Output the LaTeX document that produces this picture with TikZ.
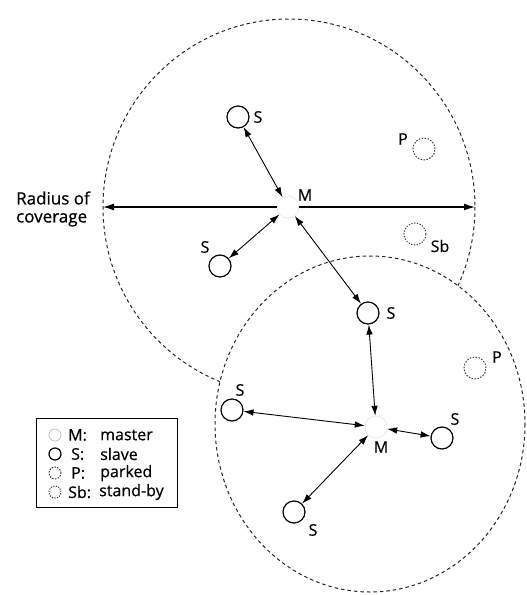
\documentclass[tikz,border=0pt]{standalone}
\usepackage{fontspec}
\setmainfont{Open Sans}
\newfontfamily\labfont{Open Sans}[FakeBold=0.6]
\usetikzlibrary{arrows.meta}
\begin{document}
\begin{tikzpicture}[x=1pt,y=-1pt,
  cov/.style={draw=black!85, line width=1pt, dash pattern=on 3.5pt off 3pt},
  slave/.style={circle, draw, line width=1.2pt, minimum size=22pt, inner sep=0pt},
  master/.style={circle, draw=black!10, line width=0.6pt, minimum size=22pt, inner sep=0pt},
  parked/.style={circle, draw=black!80, line width=0.9pt, dash pattern=on 1.6pt off 1.4pt, minimum size=22pt, inner sep=0pt},
  standby/.style={circle, draw=black!80, line width=1pt, dash pattern=on 1.2pt off 1.6pt, minimum size=22pt, inner sep=0pt},
  lbl/.style={font=\labfont\fontsize{16}{18}\selectfont, inner sep=0pt},
  link/.style={line width=0.9pt, {Latex[length=10pt,width=6.5pt]}-{Latex[length=10pt,width=6.5pt]}},
  ray/.style={line width=1.3pt, -{Latex[length=11pt,width=7pt]}},
  legsym/.style={circle, minimum size=12pt, inner sep=0pt},
]
\useasboundingbox (0,0) rectangle (527,595);
% coverage areas
\draw[cov] (289,207) ellipse [x radius=186, y radius=188];
\draw[cov, fill=white] (370,424) ellipse [x radius=155, y radius=168];
% upper piconet
\node[master] (M1) at (288,207) {};
\node[lbl] (M1l) at (305,195) {M};
\node[slave] (S1) at (238,117) {};
\node[lbl] (S1l) at (258,117) {S};
\node[slave] (S2) at (220,266) {};
\node[lbl] (S2l) at (205,247) {S};
\node[parked] (P1) at (424,149) {};
\node[lbl] (P1l) at (403,139) {P};
\node[standby] (Sb) at (415,234) {};
\node[lbl] (Sbl) at (440,246) {Sb};
\node[slave] (S3) at (368,313) {};
\node[lbl] (S3l) at (391,313) {S};
% lower piconet
\node[master] (M2) at (376,427) {};
\node[lbl] (M2l) at (381,447) {M};
\node[slave] (S4) at (232,410) {};
\node[lbl] (S4l) at (240,390) {S};
\node[slave] (S5) at (442,438) {};
\node[lbl] (S5l) at (455,419) {S};
\node[slave] (S6) at (294,512) {};
\node[lbl] (S6l) at (313,530) {S};
\node[parked] (P2) at (475,368) {};
\node[lbl] (P2l) at (497,357) {P};
% radius of coverage
\coordinate (RL) at (103,207);
\coordinate (RR) at (475,207);
\node[lbl, align=left, font=\labfont\fontsize{17}{18}\selectfont] (rad) at (53,209) {Radius of\\coverage};
\draw[ray] (M1) -- (RL);
\draw[ray] (M1) -- (RR);
% links
\draw[link] (S1) -- (M1);
\draw[link] (S2) -- (M1);
\draw[link] (S3) -- (M1);
\draw[link] (S3) -- (M2);
\draw[link] (S4) -- (M2);
\draw[link] (S5) -- (M2);
\draw[link] (S6) -- (M2);
% legend
\node[draw, line width=1pt, minimum width=141pt, minimum height=89pt, inner sep=0pt] (leg) at (106.5,462.5) {};
\node[legsym, draw=black!30, line width=0.6pt] (k1) at (55,435) {};
\node[legsym, draw, line width=1.2pt] (k2) at (55,454) {};
\node[legsym, draw=black!80, line width=0.9pt, dash pattern=on 1.5pt off 1.3pt] (k3) at (55,473) {};
\node[legsym, draw=black!80, line width=1pt, dash pattern=on 1.1pt off 1.4pt] (k4) at (55,492) {};
\node[lbl, anchor=west] (t1a) at (68,435) {M:};
\node[lbl, anchor=west] (t1b) at (100,435) {master};
\node[lbl, anchor=west] (t2a) at (71,454) {S:};
\node[lbl, anchor=west] (t2b) at (100,454) {slave};
\node[lbl, anchor=west] (t3a) at (71,473) {P:};
\node[lbl, anchor=west] (t3b) at (100,473) {parked};
\node[lbl, anchor=west] (t4a) at (68,492) {Sb:};
\node[lbl, anchor=west] (t4b) at (99,492) {stand-by};
\end{tikzpicture}
\end{document}
